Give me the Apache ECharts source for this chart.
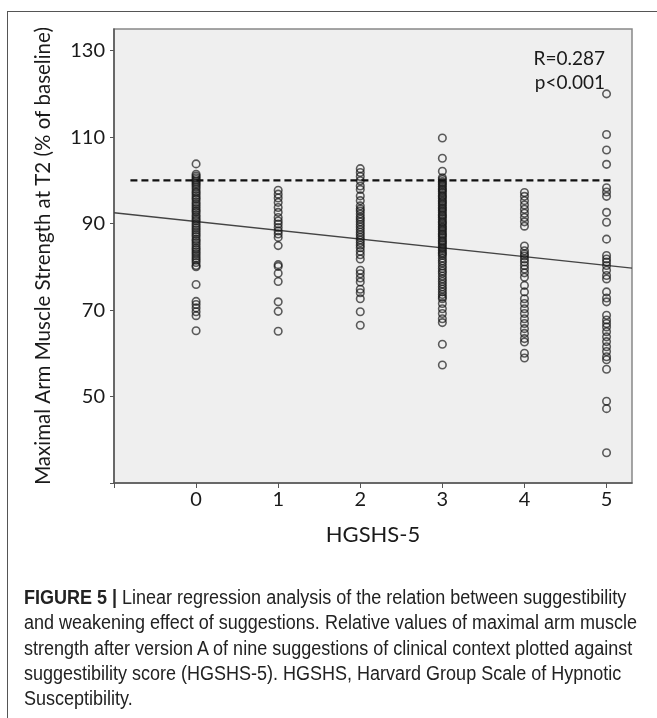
<!DOCTYPE html>
<html lang="en">
<head>
<meta charset="UTF-8">
<title>HGSHS-5 regression</title>
<style type="text/css">
    html,body{
        margin:0;
        padding:0;
        width:657px;
        height:718px;
        overflow:hidden;
        background:#ffffff;
    }
    #frame{
        position:absolute;
        left:7px;
        top:11px;
        width:700px;
        height:760px;
        border:1px solid #555;
    }
    #chart{
        position:absolute;
        left:0;
        top:0;
        width:657px;
        height:718px;
    }
    #caption{
        position:absolute;
        left:24px;
        top:585px;
        font-family:'Liberation Sans Narrow','Liberation Sans',sans-serif;
        font-size:20px;
        line-height:25.3px;
        color:#222;
        white-space:nowrap;
        transform:scaleX(0.9);
        transform-origin:left top;
    }
</style>
</head>
<body>
<div id="frame"></div>
<div id="chart"></div>
<div id="caption"><b>FIGURE 5 |</b> Linear regression analysis of the relation between suggestibility<br>and weakening effect of suggestions. Relative values of maximal arm muscle<br>strength after version A of nine suggestions of clinical context plotted against<br>suggestibility score (HGSHS-5). HGSHS, Harvard Group Scale of Hypnotic<br>Susceptibility.</div>
<script src="https://cdn.jsdelivr.net/npm/echarts@6/dist/echarts.min.js"></script>
<script type="text/javascript">
    // HGSHS-5 score columns
    var scores = [0, 1, 2, 3, 4, 5];
    var yTicks = [50, 70, 90, 110, 130];

    // strength values (% of baseline) per score
    var score0 = [103.8, 101.4, 101, 100.6, 100.2, 99.8, 99.4, 99, 98.5, 98, 97.4, 97, 96.5, 96, 95.6, 95, 94.5, 94, 93.5, 93,
        92.6, 92, 91.5, 91, 90.6, 90, 89.5, 89, 88.5, 88, 87.5, 87, 86.4, 86, 85.5, 85, 84.4, 84, 83.5, 83, 82.5, 82, 81.5, 81,
        80.3, 80, 75.9, 72, 71.3, 70.5, 69.6, 68.7, 65.2];
    var score1 = [97.7, 96.8, 95.9, 94.9, 93.7, 92.6, 91.4, 90.6, 89.9, 89.1, 88.3, 87.6, 86.8, 84.9, 80.5, 80.1, 78.5, 76.6,
        71.9, 69.7, 65.1];
    var score2 = [102.7, 101.8, 100.9, 99.9, 98.7, 97.9, 96.4, 95.3, 94.1, 93.4, 92.9, 92.2, 91.5, 91, 90.4, 89.8, 89.2, 88.6,
        88, 87.4, 86.8, 86.2, 85.6, 85, 84.4, 83.6, 82.8, 81.8, 79.2, 78.4, 77.4, 76.5, 74.8, 74, 72.6, 69.6, 66.5];
    var score3 = [109.8, 105.1, 102.1, 100.6, 100.2, 99.7, 99.4, 99, 98.6, 98.1, 97.8, 97.4, 97, 96.5, 96.2, 95.8, 95.3, 95,
        94.6, 94.2, 93.7, 93.4, 93, 92.6, 92.1, 91.8, 91.4, 91, 90.5, 90.2, 89.8, 89.3, 89, 88.6, 88.2, 87.7, 87.4, 87, 86.6,
        86.1, 85.8, 85.4, 85, 84.5, 84.2, 83.8, 83.3, 83, 82.6, 82, 81.4, 80.9, 80.2, 79.6, 79, 78.5, 77.8, 77.2, 76.6, 76,
        75.4, 74.8, 74.2, 73.6, 73, 72.6, 71.5, 70.3, 69.2, 68, 67.1, 62.1, 57.3];
    var score4 = [97.2, 96.3, 95.3, 94.3, 93.3, 92.4, 91.4, 90.4, 89.4, 84.8, 83.7, 83, 82.5, 81.8, 81.1, 80.3, 79.5, 78.6,
        77.6, 75.7, 74.2, 72.6, 71.5, 70.3, 69.2, 68, 66.9, 65.7, 64.6, 63.4, 62.6, 60, 58.9];
    var score5 = [120, 110.6, 107, 103.7, 98.3, 97.3, 96.3, 92.6, 90.3, 86.4, 82.6, 81.8, 81.1, 80.3, 79.2, 78, 77.2, 74.2,
        72.8, 71.9, 68.8, 67.7, 66.9, 66.1, 65, 63.8, 62.7, 61.5, 60.4, 59.2, 58.5, 56.3, 48.9, 47.2, 37];

    // fitted regression line end points [score, value]
    var fitLine = [[-1, 92.5], [5.31, 79.7]];
    // 100 % baseline reference
    var baseLine = [[-0.8, 100], [5.08, 100]];

    var columns = [score0, score1, score2, score3, score4, score5];
    var points = [];
    columns.forEach(function (col, i) {
        col.forEach(function (v) {
            points.push([scores[i], v]);
        });
    });

    var chart = echarts.init(document.getElementById('chart'));
    chart.setOption({
        animation: false,
        textStyle: {
            fontFamily: 'Lato'
        },
        grid: {
            left: 114,
            top: 29,
            right: 25,
            bottom: 235,
            show: true,
            backgroundColor: '#efefef',
            borderColor: '#888',
            borderWidth: 1.5
        },
        xAxis: {
            type: 'value',
            min: -1,
            max: 5.31,
            interval: 1,
            name: 'HGSHS-5',
            nameLocation: 'middle',
            nameGap: 41,
            nameTextStyle: {
                fontSize: 22,
                color: '#1a1a1a',
                fontFamily: 'Lato'
            },
            axisLine: {
                onZero: false,
                lineStyle: {color: '#555', width: 1.5}
            },
            axisTick: {
                show: true,
                length: 5,
                lineStyle: {color: '#555'}
            },
            axisLabel: {
                margin: 7,
                fontSize: 20,
                color: '#1a1a1a',
                showMaxLabel: false,
                formatter: function (v) {
                    return scores.indexOf(v) >= 0 ? String(v) : '';
                }
            },
            splitLine: {show: false}
        },
        yAxis: {
            type: 'value',
            min: 30,
            max: 135,
            interval: 20,
            name: 'Maximal Arm Muscle Strength at T2 (% of baseline)',
            nameLocation: 'middle',
            nameGap: 60,
            nameTextStyle: {
                fontSize: 20.5,
                color: '#1a1a1a',
                fontFamily: 'Lato'
            },
            axisLine: {
                onZero: false,
                lineStyle: {color: '#555', width: 1.5}
            },
            axisTick: {
                show: true,
                length: 4,
                lineStyle: {color: '#555'}
            },
            axisLabel: {
                margin: 9,
                fontSize: 20,
                color: '#1a1a1a',
                showMaxLabel: false,
                formatter: function (v) {
                    return yTicks.indexOf(v) >= 0 ? String(v) : '';
                }
            },
            splitLine: {show: false}
        },
        graphic: [{
            type: 'text',
            right: 52,
            top: 47,
            style: {
                text: 'R=0.287\np<0.001',
                font: '19px Lato',
                fill: '#1a1a1a',
                lineHeight: 24,
                textAlign: 'right'
            }
        }],
        series: [{
            type: 'line',
            data: baseLine,
            symbol: 'none',
            silent: true,
            lineStyle: {color: '#111', width: 2.2, type: [7, 4]},
            z: 3
        }, {
            type: 'line',
            data: fitLine,
            symbol: 'none',
            silent: true,
            lineStyle: {color: '#444', width: 1.4},
            z: 3
        }, {
            type: 'scatter',
            data: points,
            symbol: 'circle',
            symbolSize: 7.5,
            itemStyle: {
                color: 'rgba(0,0,0,0)',
                borderColor: 'rgba(20,20,20,0.85)',
                borderWidth: 1.6
            },
            z: 4
        }]
    });
</script>
</body>
</html>
